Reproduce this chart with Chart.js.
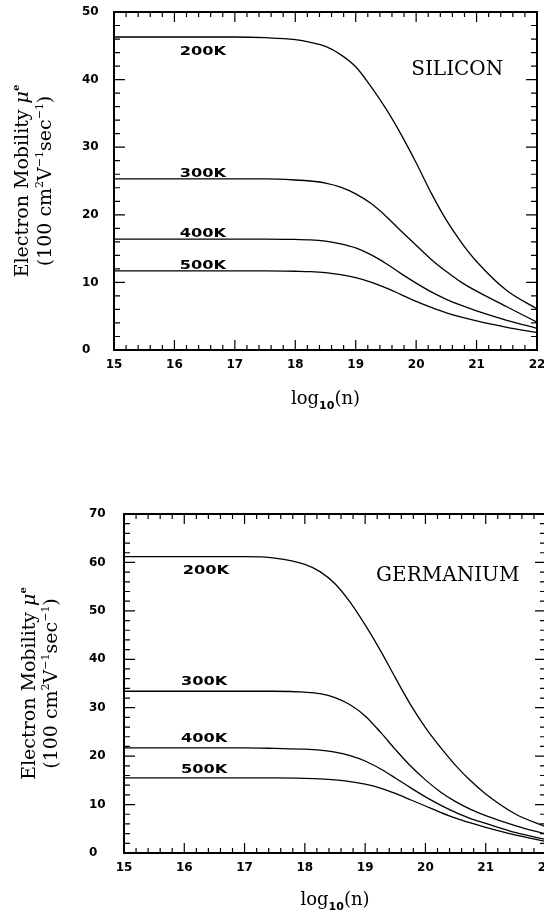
<!DOCTYPE html>
<html>
<head>
<meta charset="utf-8">
<script src="https://cdn.jsdelivr.net/npm/chart.js@4.4.1/dist/chart.umd.min.js"></script>
<style>
  html, body { margin: 0; padding: 0; background: #fff; overflow: hidden; width: 544px; height: 922px; }
  #si { position: absolute; left: 0; top: 0; }
  #ge { position: absolute; left: 0; top: 470px; }
</style>
</head>
<body>
<canvas id="si" width="544" height="420"></canvas>
<canvas id="ge" width="560" height="452"></canvas>
<script>
// x positions of the read-off points, log10(n)
const logN = [15, 16, 17, 17.5, 18, 18.25, 18.5, 18.75, 19, 19.25, 19.5, 19.75, 20, 20.25, 20.5, 20.75, 21, 21.5, 22];
const tempLabels = ['200K', '300K', '400K', '500K'];

// silicon, electron mobility in 100 cm2/Vs
const si200 = [46.3, 46.3, 46.3, 46.2, 45.9, 45.5, 44.9, 43.7, 41.9, 39.0, 35.7, 31.9, 27.7, 23.2, 19.2, 15.9, 13.1, 8.8, 6.1];
const si300 = [25.3, 25.3, 25.3, 25.3, 25.15, 25.0, 24.7, 24.1, 23.1, 21.7, 19.8, 17.6, 15.5, 13.4, 11.6, 10.0, 8.7, 6.4, 4.1];
const si400 = [16.4, 16.4, 16.4, 16.4, 16.35, 16.3, 16.1, 15.7, 15.1, 14.1, 12.8, 11.3, 9.9, 8.6, 7.5, 6.6, 5.8, 4.4, 3.2];
const si500 = [11.7, 11.7, 11.7, 11.7, 11.65, 11.6, 11.45, 11.15, 10.7, 10.05, 9.2, 8.2, 7.2, 6.3, 5.5, 4.85, 4.3, 3.35, 2.6];

// germanium
const ge200 = [61.2, 61.2, 61.2, 60.9, 59.6, 58.1, 55.6, 51.8, 47.1, 41.9, 36.2, 30.7, 25.9, 21.8, 18.1, 14.9, 12.2, 8.0, 5.4];
const ge300 = [33.4, 33.4, 33.4, 33.4, 33.2, 32.9, 32.1, 30.6, 28.3, 25.0, 21.4, 18.0, 15.1, 12.6, 10.6, 9.0, 7.7, 5.6, 3.9];
const ge400 = [21.7, 21.7, 21.7, 21.6, 21.45, 21.25, 20.85, 20.1, 19.0, 17.4, 15.5, 13.5, 11.6, 9.9, 8.4, 7.1, 6.1, 4.2, 2.8];
const ge500 = [15.5, 15.5, 15.5, 15.5, 15.4, 15.3, 15.1, 14.75, 14.2, 13.4, 12.3, 11.0, 9.7, 8.4, 7.2, 6.2, 5.3, 3.7, 2.4];

const xTicks = [15, 16, 17, 18, 19, 20, 21, 22];
const siYTicks = [0, 10, 20, 30, 40, 50];
const geYTicks = [0, 10, 20, 30, 40, 50, 60, 70];

const serif = 'DejaVu Serif';

function drawRich(ctx, parts, x, y) {
  let w = 0;
  parts.forEach(p => { ctx.font = p.f; w += ctx.measureText(p.t).width; });
  let cx = x - w / 2;
  parts.forEach(p => {
    ctx.font = p.f;
    ctx.fillText(p.t, cx, y + (p.dy || 0));
    cx += ctx.measureText(p.t).width;
  });
}

// box, inward ticks, labels and axis titles
const decor = {
  id: 'decor',
  afterDatasetsDraw(chart, args, o) {
    const { ctx, chartArea: a, scales: { x, y } } = chart;
    ctx.save();
    ctx.strokeStyle = '#000';
    ctx.lineWidth = 1.2;
    ctx.beginPath();
    const nx = Math.round((x.max - x.min) * 5);
    for (let i = 0; i <= nx; i++) {
      const px = x.getPixelForValue(x.min + i * 0.2);
      const len = i % 5 === 0 ? 10 : 5;
      ctx.moveTo(px, a.bottom); ctx.lineTo(px, a.bottom - len);
      ctx.moveTo(px, a.top); ctx.lineTo(px, a.top + len);
    }
    const ny = Math.round((y.max - y.min) / 2);
    for (let i = 0; i <= ny; i++) {
      const py = y.getPixelForValue(y.min + i * 2);
      const len = i % 5 === 0 ? 11 : 6;
      ctx.moveTo(a.left, py); ctx.lineTo(a.left + len, py);
      ctx.moveTo(a.right, py); ctx.lineTo(a.right - len, py);
    }
    ctx.stroke();
    ctx.lineWidth = 2;
    ctx.strokeRect(a.left, a.top, a.right - a.left, a.bottom - a.top);

    ctx.fillStyle = '#000';
    ctx.textBaseline = 'middle';
    ctx.textAlign = 'center';
    // curve labels
    o.labels.forEach(l => {
      ctx.save();
      ctx.translate(x.getPixelForValue(l.x), y.getPixelForValue(l.y));
      ctx.scale(1.35, 1);
      ctx.font = 'bold 12px "DejaVu Sans"';
      ctx.fillText(l.t, 0, 0);
      ctx.restore();
    });
    // material name
    ctx.font = '20px "' + serif + '"';
    ctx.fillText(o.material.t, x.getPixelForValue(o.material.x), y.getPixelForValue(o.material.y));

    // x title
    ctx.textAlign = 'left';
    ctx.textBaseline = 'alphabetic';
    drawRich(ctx, [
      { t: 'log', f: '18px "' + serif + '"' },
      { t: '10', f: 'bold 11px "DejaVu Sans"', dy: 5 },
      { t: '(n)', f: '18px "' + serif + '"' }
    ], (a.left + a.right) / 2, a.bottom + o.xTitleDy);

    // y title, two lines
    const cy = (a.top + a.bottom) / 2;
    const f = '19px "' + serif + '"', s = '11px "' + serif + '"';
    ctx.save();
    ctx.translate(o.yLine1, cy);
    ctx.rotate(-Math.PI / 2);
    drawRich(ctx, [
      { t: 'Electron Mobility ', f: f },
      { t: 'μ', f: 'italic 19px "' + serif + '"' },
      { t: 'e', f: 'bold 10px "' + serif + '"', dy: -9 }
    ], 0, 0);
    ctx.restore();
    ctx.save();
    ctx.translate(o.yLine2, cy);
    ctx.rotate(-Math.PI / 2);
    drawRich(ctx, [
      { t: '(100 cm', f: f },
      { t: '2', f: s, dy: -8 },
      { t: 'V', f: f },
      { t: '−1', f: s, dy: -8 },
      { t: 'sec', f: f },
      { t: '−1', f: s, dy: -8 },
      { t: ')', f: f }
    ], 0, 0);
    ctx.restore();
    ctx.restore();
  }
};

function makeChart(id, series, yTicks, cfg) {
  const datasets = series.map((vals, i) => ({
    label: tempLabels[i],
    data: logN.map((v, j) => ({ x: v, y: vals[j] })),
    borderColor: '#000',
    borderWidth: 1.3,
    pointRadius: 0,
    fill: false,
    cubicInterpolationMode: 'monotone'
  }));
  const tickFont = { family: 'DejaVu Sans', weight: 'bold', size: 12 };
  return new Chart(document.getElementById(id), {
    type: 'line',
    data: { datasets },
    options: {
      responsive: false,
      animation: false,
      events: [],
      layout: { padding: cfg.pad },
      plugins: {
        legend: { display: false },
        tooltip: { enabled: false },
        decor: cfg.decor
      },
      scales: {
        x: {
          type: 'linear',
          min: xTicks[0],
          max: xTicks[xTicks.length - 1],
          afterBuildTicks: sc => { sc.ticks = xTicks.map(v => ({ value: v })); },
          ticks: { color: '#000', font: tickFont, padding: 8, maxRotation: 0, autoSkip: false },
          grid: { display: false, drawTicks: false },
          border: { display: false },
          afterFit: sc => { sc.height = cfg.xH; sc.paddingLeft = 0; sc.paddingRight = 0; }
        },
        y: {
          type: 'linear',
          min: yTicks[0],
          max: yTicks[yTicks.length - 1],
          afterBuildTicks: sc => { sc.ticks = yTicks.map(v => ({ value: v })); },
          ticks: { color: '#000', font: tickFont, crossAlign: 'far' },
          grid: { display: false, drawTicks: false },
          border: { display: false },
          afterFit: sc => { sc.width = cfg.yW; sc.paddingTop = 0; sc.paddingBottom = 0; }
        }
      }
    },
    plugins: [decor]
  });
}

makeChart('si', [si200, si300, si400, si500], siYTicks, {
  pad: { left: 82, right: 7, top: 12, bottom: 0 },
  xH: 70, yW: 32,
  decor: {
    labels: [
      { t: '200K', x: 16.47, y: 44.1 },
      { t: '300K', x: 16.47, y: 26.1 },
      { t: '400K', x: 16.47, y: 17.2 },
      { t: '500K', x: 16.47, y: 12.5 }
    ],
    material: { t: 'SILICON', x: 20.68, y: 41.4 },
    xTitleDy: 54, yLine1: 28, yLine2: 51
  }
});

makeChart('ge', [ge200, ge300, ge400, ge500], geYTicks, {
  pad: { left: 89, right: 14, top: 44, bottom: 0 },
  xH: 69, yW: 35,
  decor: {
    labels: [
      { t: '200K', x: 16.36, y: 58.2 },
      { t: '300K', x: 16.33, y: 35.3 },
      { t: '400K', x: 16.33, y: 23.5 },
      { t: '500K', x: 16.33, y: 17.1 }
    ],
    material: { t: 'GERMANIUM', x: 20.37, y: 57.2 },
    xTitleDy: 52, yLine1: 35, yLine2: 57
  }
});
</script>
</body>
</html>
